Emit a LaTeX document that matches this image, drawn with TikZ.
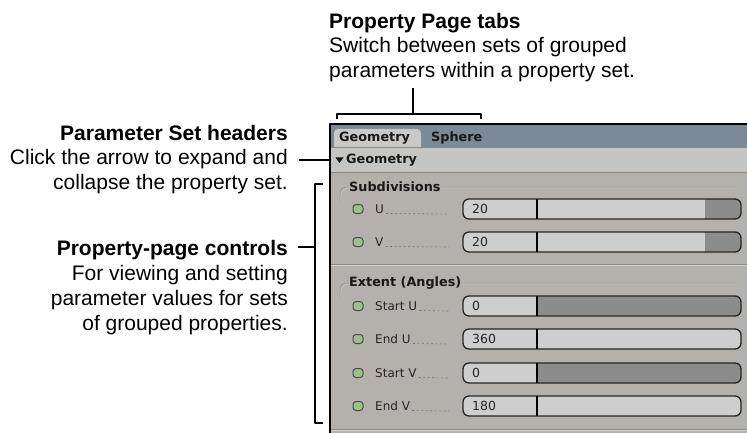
\documentclass[tikz,border=0pt]{standalone}
\usepackage{fontspec}
\setmainfont{Liberation Sans}
\newfontfamily\uifont{DejaVu Sans}
\usetikzlibrary{positioning}

\definecolor{tabbar}{RGB}{122,138,151}
\definecolor{tabface}{RGB}{201,201,201}
\definecolor{headrow}{RGB}{197,197,195}
\definecolor{panelbg}{RGB}{180,176,172}
\definecolor{etchdark}{RGB}{138,134,130}
\definecolor{etchlight}{RGB}{214,211,207}
\definecolor{fieldlight}{RGB}{206,206,206}
\definecolor{fielddark}{RGB}{140,140,140}
\definecolor{ledgreen}{RGB}{158,190,142}

\tikzset{
  note/.style={font=\fontsize{21}{24.5}\selectfont, inner sep=0pt},
  callout/.style={line width=1.8pt},
  uibold/.style={font=\uifont\bfseries\fontsize{12.8}{14}\selectfont, inner sep=0pt, text=black!90},
  uilabel/.style={font=\uifont\fontsize{12}{14}\selectfont, inner sep=0pt, text=black!85},
}

\begin{document}
\begin{tikzpicture}[x=1pt, y=-1pt, line join=round]
\useasboundingbox (0,0) rectangle (747,433);

% panel background, tab bar and header row
\fill[panelbg] (330,124) rectangle (747,433);
\fill[tabbar] (330,124) rectangle (747,147);
\fill[headrow] (330,147) rectangle (747,172);
\draw[etchdark] (330,147.5) -- (747,147.5);
\draw[etchdark] (330,172) -- (747,172);
\fill[tabface] (334,147) [rounded corners=4pt]-- (334,129) -- (421,129) [sharp corners]-- (421,147) -- cycle;
\draw[line width=2pt] (330,433) -- (330,124) -- (747,124);

\node[uibold, anchor=west] (tabgeo) at (339,138) {Geometry};
\node[uibold, anchor=west] (tabsph) at (431,138) {Sphere};
\fill[black!90] (335.5,157.5) -- (343.5,157.5) -- (339.5,163) -- cycle; % expand arrow
\node[uibold, anchor=west] (headgeo) at (346,160) {Geometry};

% group frames: rounded top edge, full width separator underneath
\foreach \top/\bot in {187/264, 283/429} {
  \draw[etchlight] (341,\top+16) -- (341,\top+8) arc[start angle=180, end angle=270, radius=7] -- (736,\top+1);
  \draw[etchdark] (340,\top+16) -- (340,\top+7) arc[start angle=180, end angle=270, radius=7] -- (736,\top);
  \draw[etchdark] (331,\bot) -- (747,\bot);
  \draw[etchlight] (331,\bot+1) -- (747,\bot+1);
}
\node[uibold, anchor=west, fill=panelbg, inner xsep=1pt] (subdiv) at (348,187) {Subdivisions};
\node[uibold, anchor=west, fill=panelbg, inner xsep=1pt] (extent) at (348,283) {Extent (Angles)};

% parameter rows: y / label / value / start of dark slider part
\foreach \y/\lbl/\val/\from [count=\i] in {209/U/20/705, 242/V/20/705, 306/Start U/0/537,
    339/End U/360/741, 373/Start V/0/537, 406/End V/180/741} {
  \draw[fill=ledgreen, draw=black!70, line width=1pt, rounded corners=3pt] (353,\y-4.5) rectangle (363,\y+4.5);
  \node[uilabel, anchor=base west] (lbl\i) at (375,\y+4.5) {\lbl};
  \draw[black!55, line width=0.6pt, dash pattern=on 2pt off 2.5pt] ([xshift=2pt]lbl\i.base east) -- (449,\y+5);
  \begin{scope}
    \clip[rounded corners=6pt] (463,\y-10) rectangle (741,\y+10);
    \fill[fieldlight] (463,\y-10) rectangle (741,\y+10);
    \fill[fielddark] (\from,\y-10) rectangle (741,\y+10);
  \end{scope}
  \draw[black!85, line width=1.3pt, rounded corners=6pt] (463,\y-10) rectangle (741,\y+10);
  \draw[line width=2.2pt] (537,\y-10) -- (537,\y+10);
  \node[uilabel, anchor=west, font=\uifont\fontsize{12.5}{14}\selectfont] (val\i) at (472,\y) {\val};
}

% annotations
\node[note, anchor=north west, align=left] (tabsnote) at (329,13)
  {\textbf{Property Page tabs}\\Switch between sets of grouped\\parameters within a property set.};
\node[note, anchor=north east, align=right] (headnote) at (288,125)
  {\textbf{Parameter Set headers}\\Click the arrow to expand and\\collapse the property set.};
\node[note, anchor=north east, align=right, font=\fontsize{21}{25}\selectfont] (ctrlnote) at (288,240)
  {\textbf{Property-page controls}\\For viewing and setting\\parameter values for sets\\of grouped properties.};

\path (413,88) coordinate (tabstem)
  (337,114) coordinate (tabbrL) (481,114) coordinate (tabbrR)
  (299,160) coordinate (headtail) (330,160) coordinate (headtip)
  (298,247) coordinate (ctrltail)
  (315,184) coordinate (ctrltop) (315,423) coordinate (ctrlbot);

\draw[callout] (tabstem) -- (tabstem |- tabbrL);
\draw[callout] ([yshift=-5pt]tabbrL) -- (tabbrL) -- (tabbrR) -- ([yshift=-5pt]tabbrR);
\draw[callout] (headtail) -- (headtip);
\draw[callout] ([xshift=8pt]ctrltop) -- (ctrltop) -- (ctrlbot) -- ([xshift=8pt]ctrlbot);
\draw[callout] (ctrltail) -- (ctrltail -| ctrltop);
\end{tikzpicture}
\end{document}
